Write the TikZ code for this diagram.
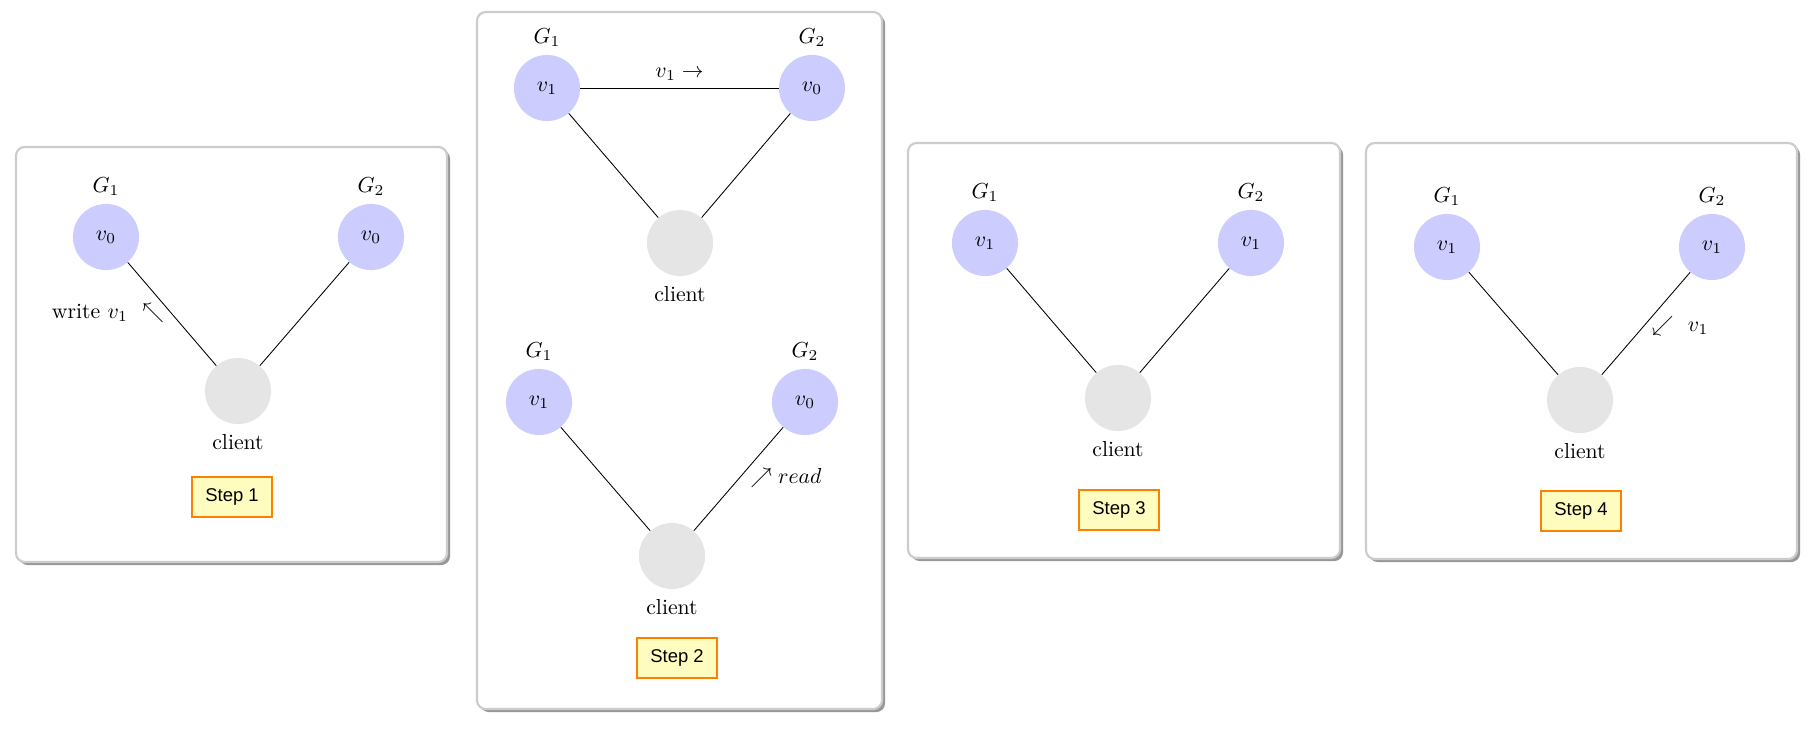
\documentclass[tikz,border=0pt]{standalone}
\usepackage{fontspec}
\newfontfamily\stepfont{Liberation Sans}
\usetikzlibrary{shadows}
\tikzset{
  panel/.style={draw=gray!40, line width=1pt, fill=white, rounded corners=4pt,
    drop shadow={shadow xshift=1.4pt, shadow yshift=-1.4pt, opacity=0.85, fill=gray!95}},
  server/.style={circle, fill=blue!20, minimum size=30.4pt, inner sep=0pt},
  clientnode/.style={circle, fill=gray!20, minimum size=30.4pt, inner sep=0pt,
    label={[label distance=1pt]below:client}},
  stepbox/.style={draw=orange, line width=0.9pt, fill=yellow!25, minimum width=37pt,
    minimum height=18pt, inner sep=0pt, font=\stepfont\fontsize{8.5}{10}\selectfont},
}
\begin{document}
\begin{tikzpicture}[x=0.46pt,y=-0.46pt]
\useasboundingbox (0,0) rectangle (1812,729);

% step 1
\draw[panel] (16,147) rectangle (447,562);
\node[server,label=above:$G_1$] (g1a) at (106,237) {$v_0$};
\node[server,label=above:$G_2$] (g2a) at (371,237) {$v_0$};
\node[clientnode] (cla) at (238,391) {};
\draw (g1a) -- (cla);
\draw (g2a) -- (cla);
\node (wra) at (108,313) {write $v_1$ \ $\nwarrow$};
\node[stepbox] (sa) at (232,497) {Step 1};

% step 2
\draw[panel] (477,12) rectangle (882,709);
\node[server,label=above:$G_1$] (g1b) at (547,88) {$v_1$};
\node[server,label=above:$G_2$] (g2b) at (812,88) {$v_0$};
\node[clientnode] (clb) at (680,243) {};
\draw (g1b) -- node[above] {$v_1 \rightarrow$} (g2b);
\draw (g1b) -- (clb);
\draw (g2b) -- (clb);
\node[server,label=above:$G_1$] (g1c) at (539,402) {$v_1$};
\node[server,label=above:$G_2$] (g2c) at (805,402) {$v_0$};
\node[clientnode] (clc) at (672,556) {};
\draw (g1c) -- (clc);
\draw (g2c) -- (clc);
\node (rdc) at (786,478) {$\nearrow read$};
\node[stepbox] (sb) at (677,658) {Step 2};

% step 3
\draw[panel] (908,143) rectangle (1340,558);
\node[server,label=above:$G_1$] (g1d) at (985,243) {$v_1$};
\node[server,label=above:$G_2$] (g2d) at (1251,243) {$v_1$};
\node[clientnode] (cld) at (1118,398) {};
\draw (g1d) -- (cld);
\draw (g2d) -- (cld);
\node[stepbox] (sd) at (1119,510) {Step 3};

% step 4
\draw[panel] (1366,143) rectangle (1797,559);
\node[server,label=above:$G_1$] (g1e) at (1447,247) {$v_1$};
\node[server,label=above:$G_2$] (g2e) at (1712,247) {$v_1$};
\node[clientnode] (cle) at (1580,400) {};
\draw (g1e) -- (cle);
\draw (g2e) -- (cle);
\node (rde) at (1680,326) {$\swarrow$ \ $v_1$};
\node[stepbox] (se) at (1581,511) {Step 4};
\end{tikzpicture}
\end{document}
